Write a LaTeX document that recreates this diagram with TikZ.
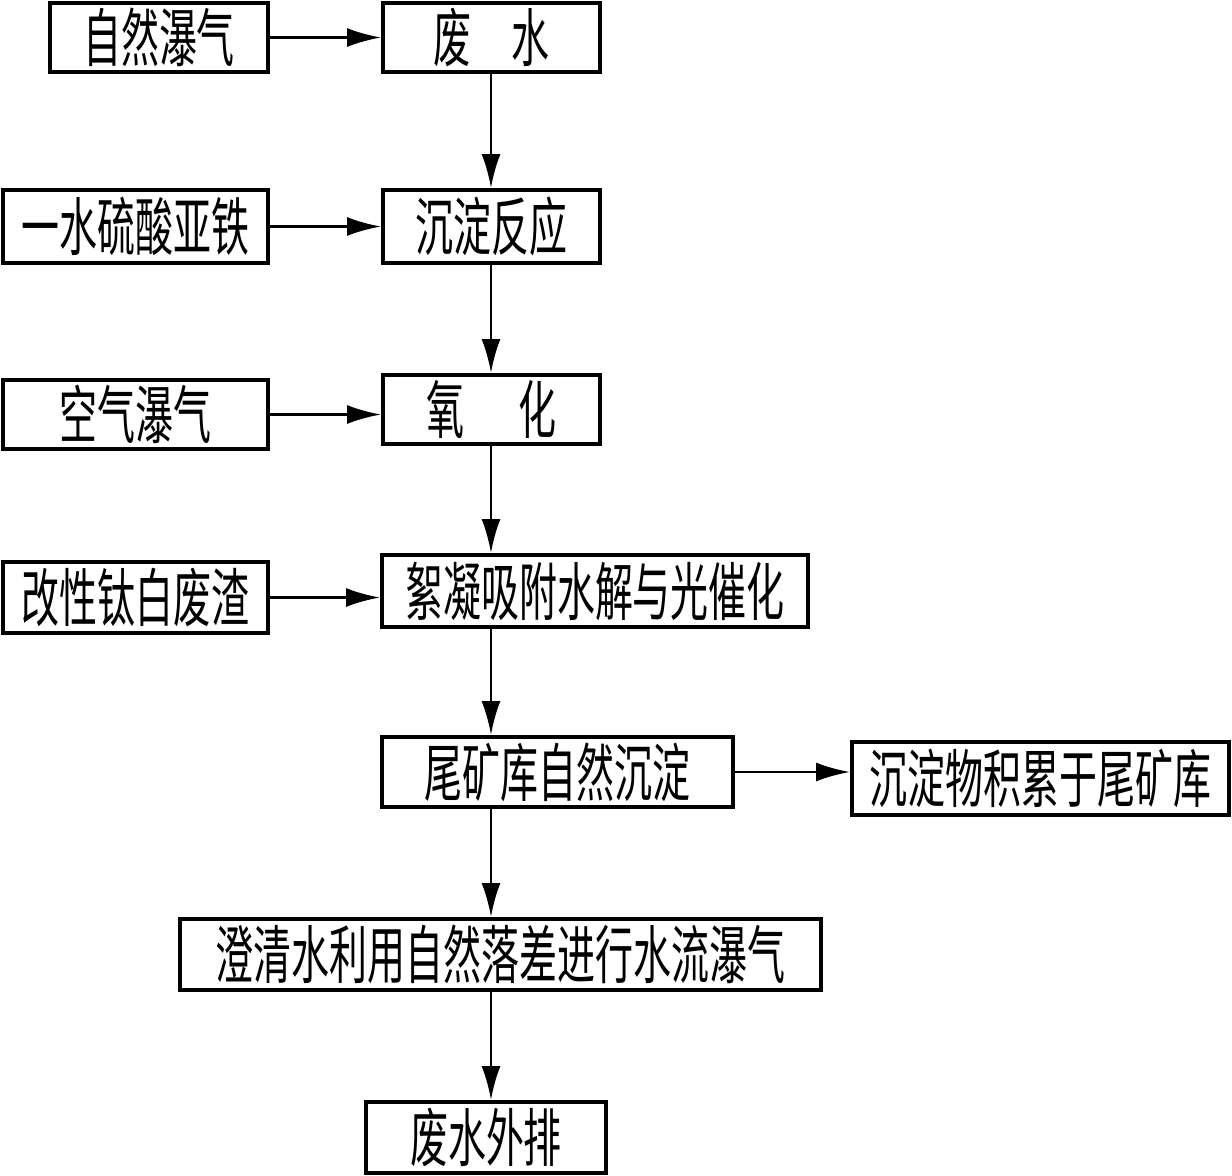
\documentclass[tikz,border=0pt]{standalone}
\usepackage{fontspec}
\newfontfamily\cjkfont[FakeStretch=0.6]{Noto Sans CJK SC}
\usetikzlibrary{arrows.meta}
\tikzstyle{stage}=[draw, line width=2.2pt, inner sep=0, font=\cjkfont\fontsize{36pt}{40pt}\selectfont]
\tikzstyle{flow}=[line width=1.6pt, -{Latex[length=0.68cm,width=0.38cm]}]

\begin{document}
\begin{tikzpicture}
          \useasboundingbox (0, 0) rectangle (24.64, -23.52);
          \coordinate (axis) at (9.82, 0);

          \node[stage, minimum width=4.36cm, minimum height=1.38cm] (nat) at (3.18, -0.75) {自然瀑气};
          \node[stage, minimum width=4.34cm, minimum height=1.38cm] (ww) at (9.83, -0.75) {废\hspace{0.8cm}水};
          \node[stage, minimum width=5.30cm, minimum height=1.46cm] (fe) at (2.71, -4.53) {一水硫酸亚铁};
          \node[stage, minimum width=4.34cm, minimum height=1.46cm] (prec) at (9.83, -4.53) {沉淀反应};
          \node[stage, minimum width=5.30cm, minimum height=1.38cm] (air) at (2.71, -8.29) {空气瀑气};
          \node[stage, minimum width=4.34cm, minimum height=1.38cm] (oxi) at (9.83, -8.19) {氧\hspace{1.1cm}化};
          \node[stage, minimum width=5.30cm, minimum height=1.42cm] (slag) at (2.71, -11.95) {改性钛白废渣};
          \node[stage, minimum width=8.52cm, minimum height=1.44cm] (floc) at (11.90, -11.82) {絮凝吸附水解与光催化};
          \node[stage, minimum width=7.02cm, minimum height=1.40cm] (tail) at (11.15, -15.44) {尾矿库自然沉淀};
          \node[stage, minimum width=7.54cm, minimum height=1.46cm] (acc) at (20.81, -15.57) {沉淀物积累于尾矿库};
          \node[stage, minimum width=12.82cm, minimum height=1.42cm] (clar) at (10.01, -19.09) {澄清水利用自然落差进行水流瀑气};
          \node[stage, minimum width=4.80cm, minimum height=1.42cm] (out) at (9.72, -22.75) {废水外排};

          % main line
          \draw[flow] (axis |- ww.south) -- (axis |- prec.north);
          \draw[flow] (axis |- prec.south) -- (axis |- oxi.north);
          \draw[flow] (axis |- oxi.south) -- (axis |- floc.north);
          \draw[flow] (axis |- floc.south) -- (axis |- tail.north);
          \draw[flow] (axis |- tail.south) -- (axis |- clar.north);
          \draw[flow] (axis |- clar.south) -- (axis |- out.north);

          % side inputs
          \draw[flow] (nat.east) -- (nat.east -| ww.west);
          \draw[flow] (fe.east) -- (fe.east -| prec.west);
          \draw[flow] (air.east) -- (air.east -| oxi.west);
          \draw[flow] (slag.east) -- (slag.east -| floc.west);
          \draw[flow] (tail.east) -- (tail.east -| acc.west);
        \end{tikzpicture}
\end{document}
